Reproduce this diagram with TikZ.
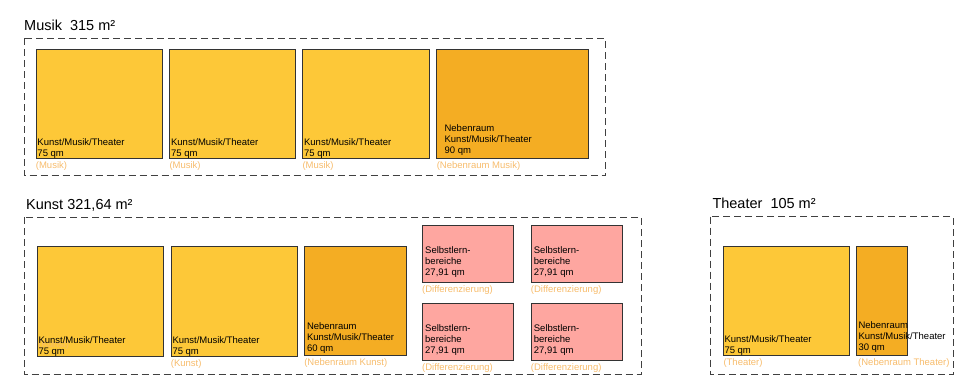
\documentclass[tikz,border=0pt]{standalone}
\usepackage{fontspec}
\setmainfont{Liberation Sans}
\usetikzlibrary{positioning}

\definecolor{raumgelb}{HTML}{FDC838}
\definecolor{raumorange}{HTML}{F4AD23}
\definecolor{raumrosa}{HTML}{FEA6A0}
\definecolor{zusatz}{HTML}{F7BC6C}

\tikzset{
  bereich/.style={draw=black!75, line width=0.9pt, dash pattern=on 7pt off 4pt},
  titel/.style={anchor=west, inner sep=0pt, font=\fontsize{14.5}{17}\selectfont},
  raum/.style={draw=black!80, line width=0.7pt, inner sep=0pt, anchor=north west},
  gelb/.style={raum, fill=raumgelb},
  neben/.style={raum, fill=raumorange},
  rosa/.style={raum, fill=raumrosa},
  raumtext/.style={inner sep=0pt, align=left, font=\fontsize{9.5}{11}\selectfont},
  nutzung/.style={inner sep=0pt, text=zusatz, font=\fontsize{9.5}{11}\selectfont},
}

\begin{document}
\begin{tikzpicture}[x=1pt,y=-1pt]
\useasboundingbox (0,0) rectangle (962,381);

% Musik
\draw[bereich] (24,38.3) rectangle (605.5,175.7);
\node[titel] (musik) at (24,25.7) {Musik\ \ 315 m²};
\node[gelb, minimum width=126.6pt, minimum height=109pt] (mus1) at (35.7,48.7) {};
\node[gelb, minimum width=126pt, minimum height=109pt] (mus2) at (169.3,48.7) {};
\node[gelb, minimum width=126.4pt, minimum height=109pt] (mus3) at (302.3,48.7) {};
\node[neben, minimum width=152.3pt, minimum height=109.2pt] (mus4) at (436,48.5) {};
\node[raumtext, above right=0pt and 1.6pt of mus1.south west] (mus1t) {Kunst/Musik/Theater\\75 qm};
\node[raumtext, above right=0pt and 1.6pt of mus2.south west] (mus2t) {Kunst/Musik/Theater\\75 qm};
\node[raumtext, above right=0pt and 1.6pt of mus3.south west] (mus3t) {Kunst/Musik/Theater\\75 qm};
\node[raumtext, above right=2.7pt and 8.4pt of mus4.south west] (mus4t) {Nebenraum\\Kunst/Musik/Theater\\90 qm};
\node[nutzung, below right=3pt and 0pt of mus1.south west] (mus1n) {(Musik)};
\node[nutzung, below right=3pt and 0pt of mus2.south west] (mus2n) {(Musik)};
\node[nutzung, below right=3pt and 0pt of mus3.south west] (mus3n) {(Musik)};
\node[nutzung, below right=3pt and 0.6pt of mus4.south west] (mus4n) {(Nebenraum Musik)};

% Kunst
\draw[bereich] (24,217) rectangle (641,374.5);
\node[titel] (kunst) at (26,205) {Kunst 321,64 m²};
\node[gelb, minimum width=126.6pt, minimum height=110pt] (kun1) at (36.7,245.7) {};
\node[gelb, minimum width=126.6pt, minimum height=110pt] (kun2) at (170.7,245.7) {};
\node[neben, minimum width=102.2pt, minimum height=109.3pt] (kun3) at (303.5,245.7) {};
\node[rosa, minimum width=91pt, minimum height=57pt] (sel1) at (422,225) {};
\node[rosa, minimum width=91pt, minimum height=57pt] (sel2) at (530.7,225) {};
\node[rosa, minimum width=91pt, minimum height=57pt] (sel3) at (422,303.3) {};
\node[rosa, minimum width=91pt, minimum height=57pt] (sel4) at (530.7,303.3) {};
\node[nutzung, above right=6.5pt and 1.5pt of kun1.south west] (kun1n) {(Kunst)};
\node[raumtext, above right=0pt and 1.6pt of kun1.south west] (kun1t) {Kunst/Musik/Theater\\75 qm};
\node[raumtext, above right=0pt and 1.6pt of kun2.south west] (kun2t) {Kunst/Musik/Theater\\75 qm};
\node[raumtext, above right=2.4pt and 3.3pt of kun3.south west] (kun3t) {Nebenraum\\Kunst/Musik/Theater\\60 qm};
\node[raumtext, above right=5pt and 3pt of sel1.south west] (sel1t) {Selbstlern-\\bereiche\\27,91 qm};
\node[raumtext, above right=5pt and 3pt of sel2.south west] (sel2t) {Selbstlern-\\bereiche\\27,91 qm};
\node[raumtext, above right=5pt and 3pt of sel3.south west] (sel3t) {Selbstlern-\\bereiche\\27,91 qm};
\node[raumtext, above right=5pt and 3pt of sel4.south west] (sel4t) {Selbstlern-\\bereiche\\27,91 qm};
\node[nutzung, below right=3pt and 0pt of kun2.south west] (kun2n) {(Kunst)};
\node[nutzung, below right=3pt and 0.6pt of kun3.south west] (kun3n) {(Nebenraum Kunst)};
\node[nutzung, below right=2.5pt and 0pt of sel1.south west] (sel1n) {(Differenzierung)};
\node[nutzung, below right=2.5pt and 0pt of sel2.south west] (sel2n) {(Differenzierung)};
\node[nutzung, below right=2.5pt and 0pt of sel3.south west] (sel3n) {(Differenzierung)};
\node[nutzung, below right=2.5pt and 0pt of sel4.south west] (sel4n) {(Differenzierung)};

% Theater
\draw[bereich] (710.7,216.7) rectangle (953.3,374.3);
\node[titel] (theater) at (712.3,203.3) {Theater\ \ 105 m²};
\node[gelb, minimum width=126.6pt, minimum height=109.3pt] (the1) at (722.7,245.7) {};
\node[neben, minimum width=51.3pt, minimum height=109.3pt] (the2) at (856,245.7) {};
\node[raumtext, above right=0pt and 1.6pt of the1.south west] (the1t) {Kunst/Musik/Theater\\75 qm};
\node[raumtext, above right=2.6pt and 2.3pt of the2.south west] (the2t) {Nebenraum\\Kunst/Musik/Theater\\30 qm};
\node[nutzung, below right=3pt and 0.6pt of the1.south west] (the1n) {(Theater)};
\node[nutzung, below right=3pt and 2pt of the2.south west] (the2n) {(Nebenraum Theater)};

\end{tikzpicture}
\end{document}
